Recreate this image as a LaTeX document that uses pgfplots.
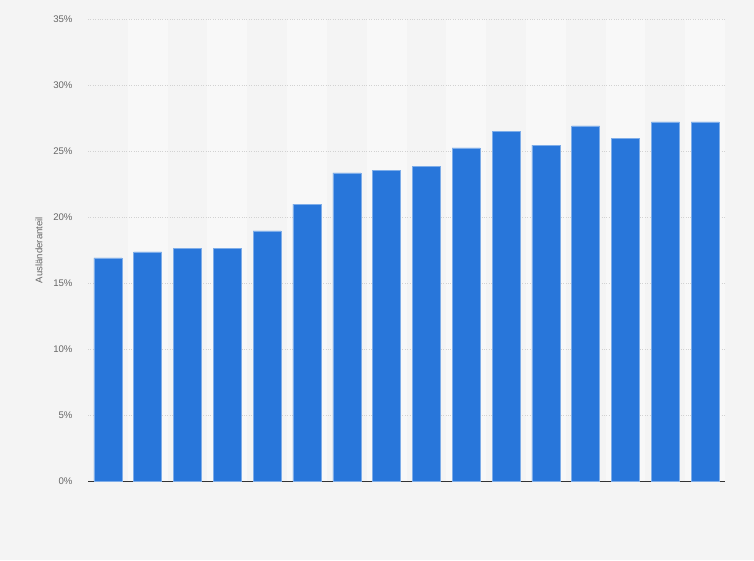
\documentclass[border=0pt]{standalone}
\usepackage{pgfplots}
\pgfplotsset{compat=1.18}
\usepackage{fontspec}
\setmainfont{Liberation Sans}
\definecolor{bg}{HTML}{F4F4F4}
\definecolor{stripe}{HTML}{F8F8F8}
\definecolor{barblue}{RGB}{40,118,218}
\definecolor{ticktext}{HTML}{666666}
\definecolor{gridc}{HTML}{D2D2D2}

\begin{document}
\begin{tikzpicture}[x=1pt,y=1pt]
  \fill[bg] (0,0) rectangle (754,560);
  \path[use as bounding box] (0,0) rectangle (754,560);
  % alternating column stripes (one category = 637/16 pt)
  \foreach \k in {1,3,...,15}{
    \fill[stripe] (88+39.8125*\k,79) rectangle (88+39.8125*\k+39.8125,541);
  }
  \begin{axis}[
      at={(88pt,79pt)}, anchor=south west,
      width=637pt, height=462pt, scale only axis,
      ybar, bar width=28pt,
      xmin=-0.5, xmax=15.5,
      ymin=0, ymax=35,
      ytick={0,5,...,35},
      yticklabel={\pgfmathprintnumber{\tick}\%},
      xtick=\empty,
      axis x line*=bottom,
      axis y line*=left,
      y axis line style={draw=none},
      major tick length=0pt,
      x axis line style={draw=black!80, line width=0.9pt, -},
      ymajorgrids,
      grid style={gridc, dotted, line width=0.6pt},
      tick label style={font=\fontsize{9.6}{11}\selectfont, text=ticktext},
      yticklabel style={xshift=-12pt},
      ylabel={Ausländeranteil},
      ylabel style={font=\fontsize{9.6}{11}\selectfont, text=ticktext, at={(axis description cs:-0.066,0.5)}, anchor=south},
      /pgf/number format/assume math mode=true,
      clip=false,
    ]
    \addplot[fill=barblue, draw=barblue!60!white, line width=0.5pt] coordinates {
      (0,16.9) (1,17.35) (2,17.65) (3,17.65) (4,18.95) (5,20.98)
      (6,23.35) (7,23.56) (8,23.86) (9,25.23) (10,26.5) (11,25.45)
      (12,26.9) (13,25.98) (14,27.2) (15,27.2)
    };
  \end{axis}
\end{tikzpicture}
\end{document}
